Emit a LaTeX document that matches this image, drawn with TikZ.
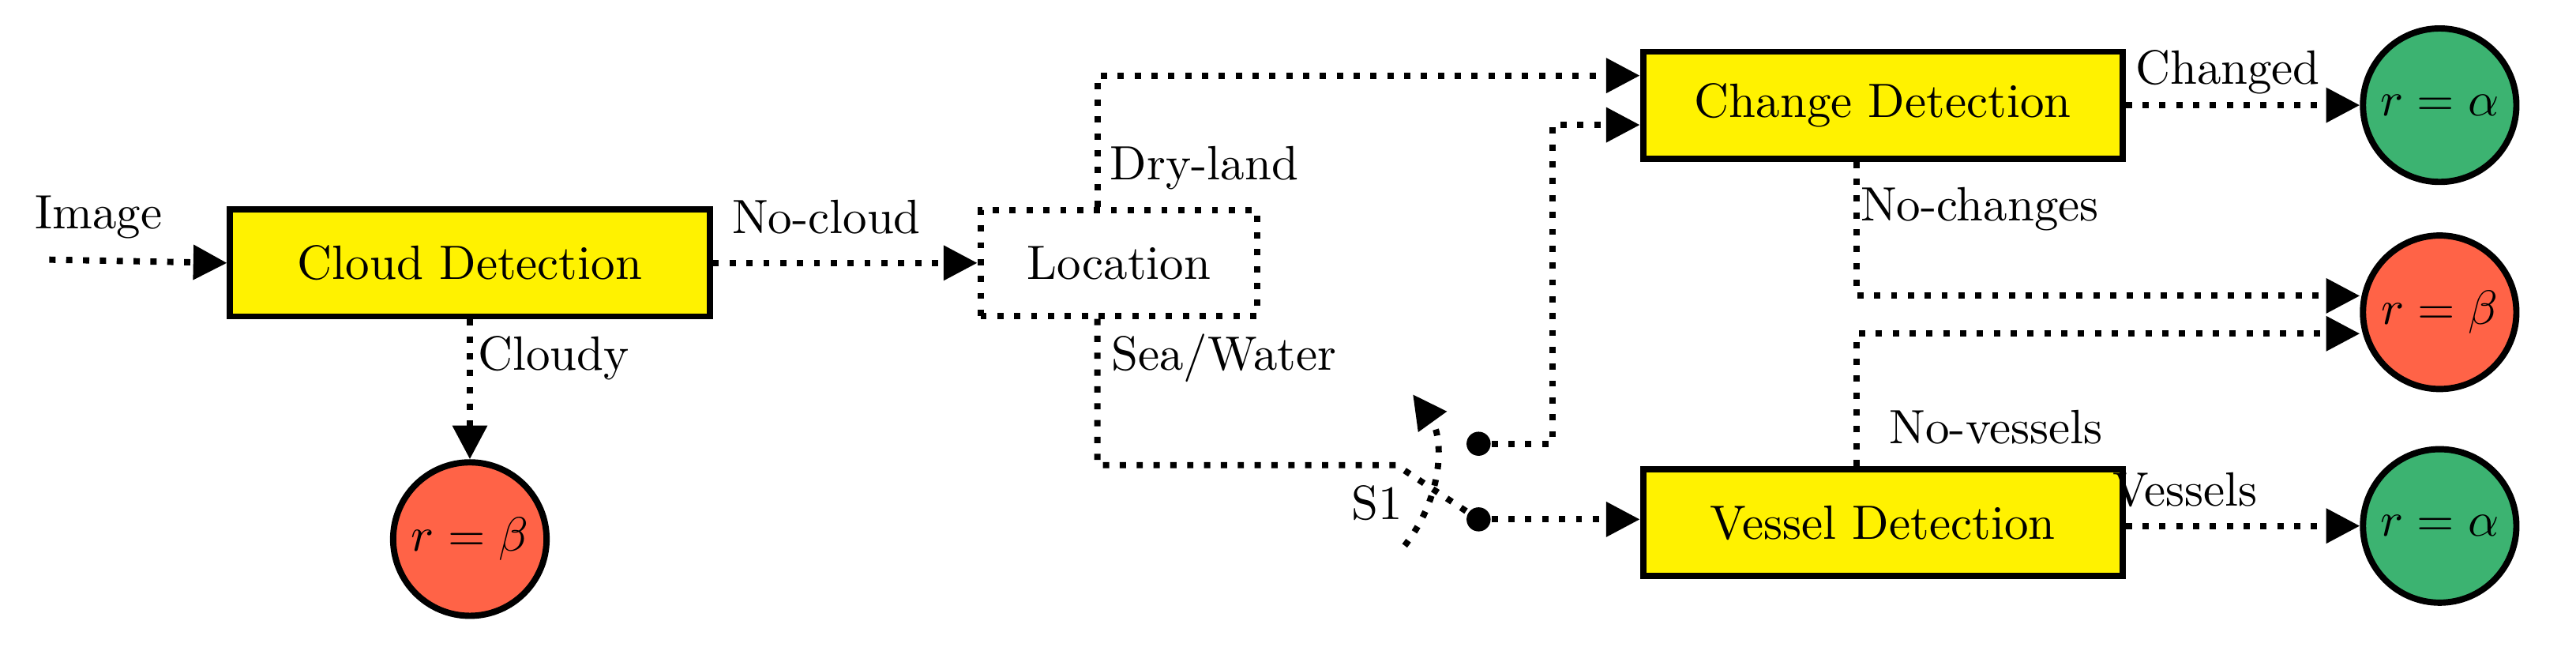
\documentclass[tikz,border=0pt]{standalone}
\usetikzlibrary{arrows.meta}
\begin{document}
\begin{tikzpicture}[x=0.012cm,y=-0.012cm,
  ln/.style={line width=1.3pt,dash pattern=on 1.3pt off 2.2pt},
  arr/.style={ln,-{Triangle[length=7pt,width=7pt]}},
  ybox/.style={draw,line width=1.3pt,fill=yellow,minimum width=3.5cm,minimum height=0.78cm},
  rc/.style={circle,draw,line width=1.3pt,minimum size=1.12cm,inner sep=0pt},
  lbl/.style={inner sep=1pt},
  dotn/.style={circle,fill=black,inner sep=0pt,minimum size=5pt}]
\useasboundingbox (0,0) rectangle (1568,405);
\definecolor{tred}{RGB}{255,99,71}
\definecolor{tgreen}{RGB}{60,179,113}
\coordinate (in) at (30,158);
\node[ybox] (cd) at (286,160) {Cloud Detection};
\node[rc,fill=tred] (c1) at (286,328) {$r=\beta$};
\node[draw,ln,minimum width=2.02cm,minimum height=0.77cm] (loc) at (681,160) {Location};
\node[ybox] (chg) at (1146,64) {Change Detection};
\node[ybox] (ves) at (1146,318) {Vessel Detection};
\node[rc,fill=tgreen] (a1) at (1485,64) {$r=\alpha$};
\node[rc,fill=tred] (b2) at (1485,190) {$r=\beta$};
\node[rc,fill=tgreen] (a2) at (1485,320) {$r=\alpha$};
\node[dotn] (d1) at (900,270) {};
\node[dotn] (d2) at (900,316) {};
\coordinate (sw) at (850,283);
\node[lbl] at (60,132) {Image};
\node[lbl] at (503,132) {No-cloud};
\node[lbl] at (337,218) {Cloudy};
\node[lbl] at (733,102) {Dry-land};
\node[lbl] at (745,218) {Sea/Water};
\node[lbl] at (838,306) {S1};
\node[lbl] at (1356,44) {Changed};
\node[lbl] at (1205,127) {No-changes};
\node[lbl] at (1215,260) {No-vessels};
\node[lbl] at (1330,298) {Vessels};
\draw[arr] (in) -- (cd.west);
\draw[arr] (cd.east) -- (loc.west);
\draw[arr] (cd.south) -- (c1.north);
\draw[arr] (loc.north -| 668,0) -- (668,46) -- (chg.west |- 0,46);
\draw[ln] (loc.south -| 668,0) -- (668,283) -- (sw) -- (d2);
\draw[arr] (855,332) .. controls (880,300) and (878,265) .. (860,240);
\draw[arr] (d1) -- (945,270) -- (945,76) -- (chg.west |- 0,76);
\draw[arr] (d2) -- (ves.west |- d2);
\draw[arr] (chg.east) -- (a1.west);
\draw[arr] (ves.east |- a2) -- (a2.west);
\draw[arr] (chg.south -| 1130,0) -- (1130,180) -- (b2.west |- 0,180);
\draw[arr] (ves.north -| 1130,0) -- (1130,203) -- (b2.west |- 0,203);
\end{tikzpicture}
\end{document}
